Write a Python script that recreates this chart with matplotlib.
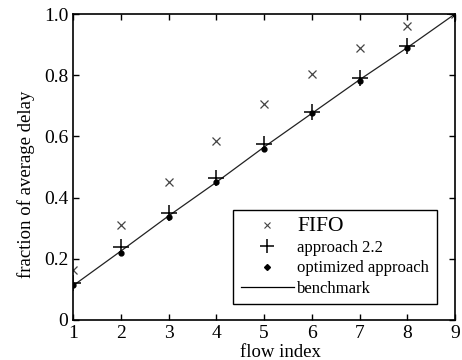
import numpy as np
import matplotlib
matplotlib.use("Agg")
import matplotlib.pyplot as plt
from matplotlib.lines import Line2D

plt.rcParams['font.family'] = ['Liberation Serif', 'DejaVu Serif']

# data
flow = [1, 2, 3, 4, 5, 6, 7, 8, 9]
fifo = [0.165, 0.31, 0.45, 0.585, 0.705, 0.805, 0.89, 0.96, 1.0]
appr22 = [0.12, 0.24, 0.35, 0.465, 0.575, 0.68, 0.79, 0.895, 1.0]
optim = [0.115, 0.22, 0.335, 0.45, 0.56, 0.675, 0.78, 0.89, 1.0]
bench = [0.112, 0.225, 0.34, 0.45, 0.565, 0.675, 0.785, 0.89, 1.0]

fig = plt.figure(figsize=(4.62, 3.6), dpi=100)
ax = fig.add_axes([73/462, 40/360, 382/462, 306/360])

ax.plot(flow, bench, color='#222222', lw=0.9)
ax.plot(flow, fifo, 'x', color='#444444', ms=6, mew=0.9)
ax.plot(flow, appr22, '+', color='black', ms=11, mew=1.1)
ax.plot(flow, optim, 'o', color='black', ms=3.5)

ax.set_xlim(1, 9)
ax.set_ylim(0, 1)
ax.set_xticks(flow)
ax.set_yticks([0, 0.2, 0.4, 0.6, 0.8, 1.0])
ax.set_yticklabels(['0', '0.2', '0.4', '0.6', '0.8', '1.0'])
ax.tick_params(direction='in', top=True, right=True, labelsize=14, length=4, width=1)
for s in ax.spines.values():
    s.set_linewidth(1.2)

ax.set_xlabel('flow index', fontsize=13.5)
ax.set_ylabel('fraction of average delay', fontsize=13.5)
ax.xaxis.set_label_coords(0.542, -0.08)
ax.yaxis.set_label_coords(-0.10, 0.444)

handles = [
    Line2D([], [], ls='none', marker='x', color='#444444', ms=5, mew=0.8),
    Line2D([], [], ls='none', marker='+', color='black', ms=10, mew=1.1),
    Line2D([], [], ls='none', marker='D', color='black', ms=3),
    Line2D([], [], color='black', lw=0.9),
]
labels = ['FIFO', 'approach 2.2', 'optimized approach', 'benchmark']
leg = ax.legend(handles, labels, loc='lower left',
                bbox_to_anchor=(0.419, 0.052, 0.534, 0.314), mode='expand',
                fontsize=12, fancybox=False, edgecolor='black', framealpha=1,
                handlelength=3.2, handletextpad=0.2, borderpad=0.45, labelspacing=0.25,
                borderaxespad=0)
leg.get_frame().set_linewidth(1.0)
leg.get_texts()[0].set_fontsize(15.5)

fig.savefig('out.png', dpi=100)
